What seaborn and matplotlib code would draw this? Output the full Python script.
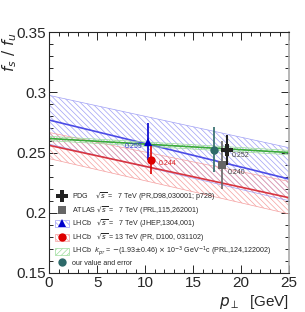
import numpy as np
import pandas as pd
import matplotlib
matplotlib.use("Agg")
import matplotlib.pyplot as plt
from matplotlib.patches import Patch
from matplotlib.lines import Line2D
from matplotlib.ticker import MultipleLocator
import seaborn as sns

# band curves, f_s/f_u vs p_T
pt_band = [0, 21, 25]
blue_mid = [0.277, 0.236, 0.228]
blue_hi = [0.2975, 0.261, 0.254]
blue_lo = [0.257, 0.2175, 0.210]
red_mid = [0.256, 0.2195, 0.2125]
red_hi = [0.2667, 0.2325, 0.226]
red_lo = [0.245, 0.2064, 0.199]
green_mid = [0.2617, 0.2519, 0.250]
green_hi = [0.2635, 0.2537, 0.2518]
green_lo = [0.2599, 0.2501, 0.2482]

# measurements
pt_pts = [18.5, 18.0, 10.3, 10.6, 17.2]
val_pts = [0.252, 0.240, 0.259, 0.244, 0.2525]
err_pts = [0.0125, 0.020, 0.0155, 0.012, 0.019]
labels_pts = ["0.252", "0.240", "0.259", "0.244", ""]

sns.set_style("ticks")
plt.rcParams['font.family'] = ['Liberation Sans', 'DejaVu Sans']
plt.rcParams['mathtext.fontset'] = 'dejavusans'
plt.rcParams['hatch.linewidth'] = 0.5

fig = plt.figure(figsize=(3.05, 3.12), dpi=100)
ax = fig.add_axes([0.161, 0.125, 0.787, 0.772])

c_blue, h_blue = "#4b4be6", "#a0a0f5"
c_red, h_red = "#d8343f", "#f5a0a0"
c_green, h_green = "#3aaa3a", "#9bdc9b"
c_teal = "#2e6a6a"

bs = "\\" * 6
fs = "/" * 6
bands = [
    (blue_lo, blue_hi, blue_mid, c_blue, h_blue, bs),
    (red_lo, red_hi, red_mid, c_red, h_red, bs),
    (green_lo, green_hi, green_mid, c_green, h_green, fs),
]
for lo, hi, mid, c, hc, hatch in bands:
    ax.fill_between(pt_band, lo, hi, facecolor="none", edgecolor=hc,
                    hatch=hatch, linewidth=0)
    ax.plot(pt_band, hi, color=hc, lw=0.5)
    ax.plot(pt_band, lo, color=hc, lw=0.5)
    df = pd.DataFrame({"pt": pt_band, "v": mid})
    sns.lineplot(data=df, x="pt", y="v", ax=ax, color=c, lw=1.2)

# points
styles = [
    dict(marker="P", color="#222222", ms=9),
    dict(marker="s", color="#666666", ms=6),
    dict(marker="^", color="#0000cc", ms=6),
    dict(marker="o", color="#dd0000", ms=6),
    dict(marker="o", color=c_teal, ms=6),
]
for x, y, e, st in zip(pt_pts, val_pts, err_pts, styles):
    ax.errorbar(x, y, yerr=e, fmt=st["marker"], color=st["color"],
                ms=st["ms"], mew=0, elinewidth=1.5 if st["marker"] == "P" else 1.2,
                capsize=0, zorder=5)

label_pos = [(19.0, 0.2465), (18.6, 0.2325), (7.9, 0.2535), (11.4, 0.2395)]
label_col = ["#444444", "#444444", "#3333cc", "#dd2222"]
for (lx, ly), t, c in zip(label_pos, labels_pts[:4], label_col):
    ax.text(lx, ly, t, fontsize=5, color=c)

ax.set_xlim(0, 25)
ax.set_ylim(0.15, 0.35)
ax.xaxis.set_major_locator(MultipleLocator(5))
ax.xaxis.set_minor_locator(MultipleLocator(1))
ax.yaxis.set_major_locator(MultipleLocator(0.05))
ax.yaxis.set_minor_locator(MultipleLocator(0.01))
ax.set_xticks([0, 5, 10, 15, 20, 25])
ax.set_xticklabels(["0", "5", "10", "15", "20", "25"])
ax.set_yticks([0.15, 0.2, 0.25, 0.3, 0.35])
ax.set_yticklabels(["0.15", "0.2", "0.25", "0.3", "0.35"])
ax.tick_params(which="both", direction="in", top=True, right=True,
               labelsize=11, width=0.7, pad=2)
ax.tick_params(which="major", length=6)
ax.tick_params(which="minor", length=3)
for s in ax.spines.values():
    s.set_linewidth(0.8)
ax.spines["right"].set_color("#aaaaaa")
ax.spines["right"].set_linewidth(1.2)

ax.set_xlabel(r"$p_{\perp}$  [GeV]", fontsize=11, loc="right", labelpad=2)
ax.set_ylabel(r"$f_s\ /\ f_u$", fontsize=11, loc="top")
ax.yaxis.set_label_coords(-0.125, 1.0)

handles = [
    Line2D([], [], marker="P", color="#222222", ls="none", ms=8, mew=0),
    Line2D([], [], marker="s", color="#666666", ls="none", ms=6, mew=0),
    (Patch(facecolor="none", edgecolor=h_blue, hatch=bs, lw=0.5),
     Line2D([], [], marker="^", color="#0000cc", ls="none", ms=6, mew=0)),
    (Patch(facecolor="none", edgecolor=h_red, hatch=bs, lw=0.5),
     Line2D([], [], marker="o", color="#dd0000", ls="none", ms=6, mew=0)),
    Patch(facecolor="none", edgecolor=h_green, hatch=fs, lw=0.5),
    Line2D([], [], marker="o", color=c_teal, ls="none", ms=6, mew=0),
]
texts = [
    r"PDG    $\sqrt{s}$ =   7 TeV (PR,D98,030001; p728)",
    r"ATLAS $\sqrt{s}$ =   7 TeV (PRL,115,262001)",
    r"LHCb   $\sqrt{s}$ =   7 TeV (JHEP,1304,001)",
    r"LHCb   $\sqrt{s}$ = 13 TeV (PR, D100, 031102)",
    r"LHCb  $k_{p_T}$ = $-$(1.93$\pm$0.46) $\times$ 10$^{-3}$ GeV$^{-1}$c (PRL,124,122002)",
    "our value and error",
]
ax.legend(handles, texts, loc="lower left", bbox_to_anchor=(0.0, 0.0),
          fontsize=5.1, frameon=False, handlelength=2.0, handleheight=1.1,
          labelspacing=0.15, handletextpad=0.4, borderpad=0.3)

fig.savefig("out.png", dpi=100)
